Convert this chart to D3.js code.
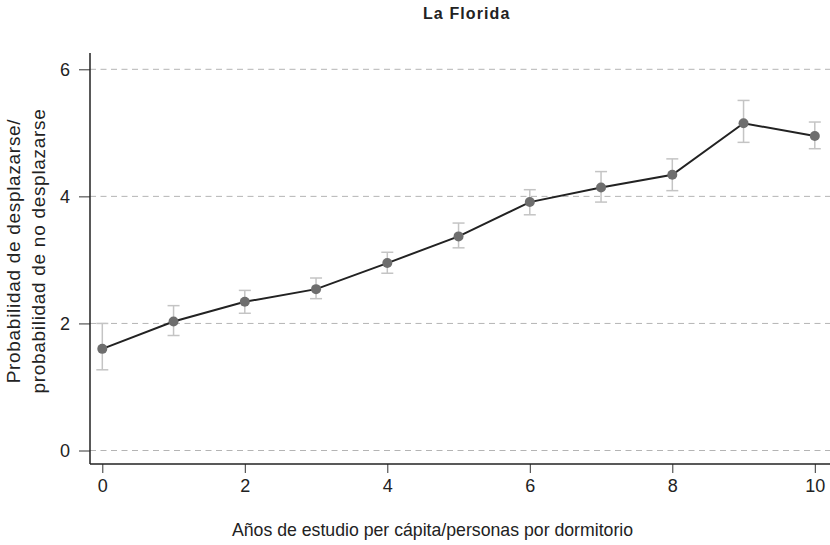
<!DOCTYPE html>
<html><head><meta charset="utf-8">
<script src="https://cdn.jsdelivr.net/npm/d3@7"></script>
<style>body{margin:0;background:#fff}svg{font-family:"Liberation Sans",Arial,sans-serif}</style>
</head><body><svg id="c" width="830" height="545"></svg>
<script>
const xs = [0,1,2,3,4,5,6,7,8,9,10];
const values = [1.60,2.03,2.34,2.54,2.95,3.37,3.91,4.14,4.34,5.15,4.95];
const upper = [2.00,2.28,2.52,2.715,3.12,3.58,4.105,4.39,4.59,5.51,5.17];
const lower = [1.27,1.81,2.16,2.39,2.79,3.19,3.71,3.91,4.09,4.85,4.75];
const xTicks = [0,2,4,6,8,10];
const yTicks = [0,2,4,6];
const title = "La Florida";
const xTitle = "Años de estudio per cápita/personas por dormitorio";
const yTitle = ["Probabilidad de desplazarse/","probabilidad de no desplazarse"];

const svg = d3.select("#c");
const pL=90, pR=830, pT=53, pB=464;
const x = d3.scaleLinear().domain([0,10]).range([102.3,814.8]);
const y = d3.scaleLinear().domain([0,6]).range([450.5,69.3]);

// gridlines
svg.append("g").selectAll("line").data(yTicks).join("line")
  .attr("x1",pL).attr("x2",pR).attr("y1",d=>y(d)).attr("y2",d=>y(d))
  .attr("stroke","#b4b4b4").attr("stroke-width",1).attr("stroke-dasharray","6,4.5");

// axes
const ya = svg.append("g").attr("transform",`translate(${pL},0)`)
  .call(d3.axisLeft(y).tickValues(yTicks).tickSize(11).tickPadding(9).tickFormat(d3.format("d")));
const xa = svg.append("g").attr("transform",`translate(0,${pB})`)
  .call(d3.axisBottom(x).tickValues(xTicks).tickSize(9).tickPadding(6).tickFormat(d3.format("d")));
[ya,xa].forEach(a=>{
  a.select(".domain").remove();
  a.selectAll("line").attr("stroke","#333");
  a.selectAll("text").attr("font-size",18).attr("fill","#222").attr("font-family","Liberation Sans, Arial, sans-serif");
});
svg.append("line").attr("x1",pL).attr("x2",pL).attr("y1",pT).attr("y2",pB).attr("stroke","#222").attr("stroke-width",1.5);
svg.append("line").attr("x1",pL).attr("x2",pR).attr("y1",pB).attr("y2",pB).attr("stroke","#222").attr("stroke-width",1.5);

// error bars
const eb = svg.append("g").attr("stroke","#c4c4c4").attr("stroke-width",1.5);
xs.forEach((d,i)=>{
  eb.append("line").attr("x1",x(d)).attr("x2",x(d)).attr("y1",y(upper[i])).attr("y2",y(lower[i]));
  eb.append("line").attr("x1",x(d)-6).attr("x2",x(d)+6).attr("y1",y(upper[i])).attr("y2",y(upper[i]));
  eb.append("line").attr("x1",x(d)-6).attr("x2",x(d)+6).attr("y1",y(lower[i])).attr("y2",y(lower[i]));
});

// line
svg.append("path").datum(xs.map((d,i)=>[d,values[i]]))
  .attr("fill","none").attr("stroke","#222").attr("stroke-width",2)
  .attr("d",d3.line().x(d=>x(d[0])).y(d=>y(d[1])));

// points
svg.append("g").selectAll("circle").data(xs).join("circle")
  .attr("cx",d=>x(d)).attr("cy",(d,i)=>y(values[i])).attr("r",5).attr("fill","#6e6e6e");

// titles
svg.append("text").attr("x",466.7).attr("y",19).attr("text-anchor","middle")
  .attr("font-size",16).attr("font-weight","bold").attr("letter-spacing",1.1).attr("fill","#222").text(title);
svg.append("text").attr("x",432.5).attr("y",536).attr("text-anchor","middle")
  .attr("font-size",17.7).attr("fill","#222").text(xTitle);
const yc = 251;
yTitle.forEach((t,i)=>{
  svg.append("text").attr("transform",`translate(${20+i*25},${yc}) rotate(-90)`)
    .attr("text-anchor","middle").attr("font-size",19).attr("letter-spacing",0.7).attr("fill","#222").text(t);
});
</script></body></html>
